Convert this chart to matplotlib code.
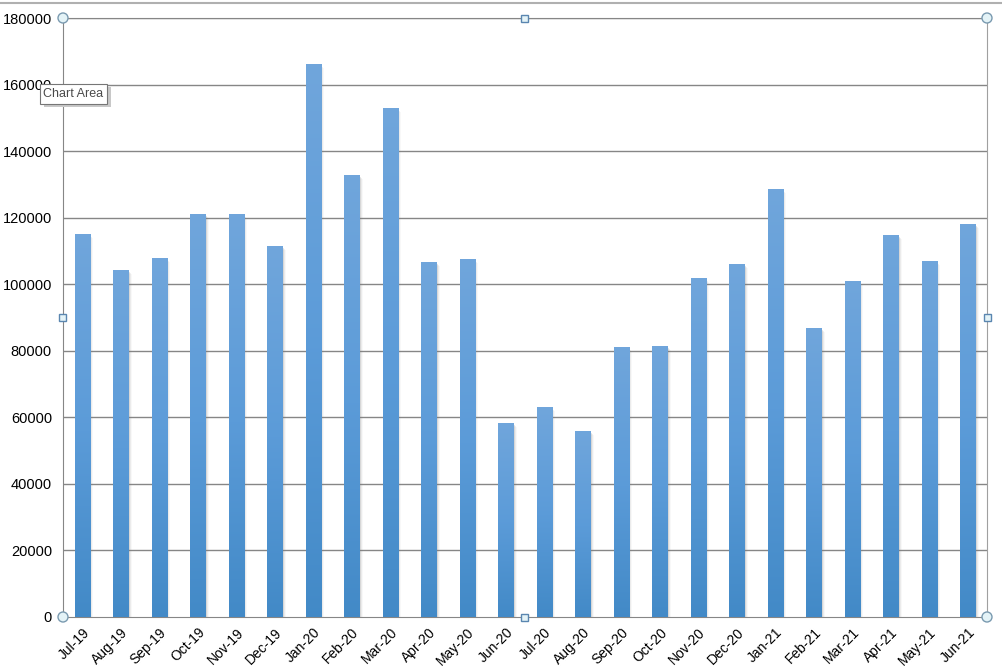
import numpy as np
import matplotlib.pyplot as plt
from matplotlib.patches import Rectangle, Circle
from matplotlib.lines import Line2D

months = ['Jul-19', 'Aug-19', 'Sep-19', 'Oct-19', 'Nov-19', 'Dec-19',
          'Jan-20', 'Feb-20', 'Mar-20', 'Apr-20', 'May-20', 'Jun-20',
          'Jul-20', 'Aug-20', 'Sep-20', 'Oct-20', 'Nov-20', 'Dec-20',
          'Jan-21', 'Feb-21', 'Mar-21', 'Apr-21', 'May-21', 'Jun-21']
values = [115100, 104300, 107900, 121100, 121100, 111400,
          166200, 132800, 153000, 106700, 107600, 58300,
          63100, 55900, 81100, 81400, 101900, 106100,
          128700, 86800, 101000, 114800, 107000, 118100]
yticks = np.arange(0, 180001, 20000)

plt.rcParams['font.family'] = ['Liberation Sans', 'DejaVu Sans']

fig = plt.figure(figsize=(10.02, 6.68), dpi=100)
ax = fig.add_axes([63/1002, 51/668, 924/1002, 599/668])

x = np.arange(len(months))
w = 0.4
ax.set_xlim(-0.5, len(months) - 0.5)
ax.set_ylim(0, 180000)

for yv in yticks[1:]:
    ax.axhline(yv, color='#868686', lw=1, zorder=1)

# gradient: light at top, darker at bottom
grad = np.linspace(0, 1, 256).reshape(-1, 1)
top = np.array([0.44, 0.65, 0.86])
mid = np.array([0.36, 0.61, 0.85])
bot = np.array([0.26, 0.54, 0.78])
cols = np.where(grad[..., None] < 0.5,
                top + (mid - top) * (grad[..., None] / 0.5),
                mid + (bot - mid) * ((grad[..., None] - 0.5) / 0.5))

for xi, v in zip(x, values):
    # soft shadow
    for k, a in enumerate([0.18, 0.10, 0.05]):
        sh = Rectangle((xi - w/2 + 0.03 + k*0.03, 0), w, v - 600 - k*300,
                       facecolor='#7f7f7f', edgecolor='none', alpha=a, zorder=2)
        ax.add_patch(sh)
    r = Rectangle((xi - w/2, 0), w, v, facecolor='none', edgecolor='none', zorder=3)
    ax.add_patch(r)
    im = ax.imshow(cols, extent=[xi - w/2, xi + w/2, 0, v], aspect='auto',
                   zorder=3, interpolation='bilinear')
    im.set_clip_path(r)

ax.set_xlim(-0.5, len(months) - 0.5)
ax.set_ylim(0, 180000)
ax.set_xticks(x)
ax.set_xticklabels(months, rotation=45, ha='right', rotation_mode='anchor', fontsize=10)
ax.set_yticks(yticks)
ax.set_yticklabels([str(t) for t in yticks], fontsize=10.5)
ax.tick_params(axis='both', length=0, pad=8)
ax.tick_params(axis='x', pad=6)

for s in ['left', 'bottom', 'right', 'top']:
    ax.spines[s].set_color('#868686')
ax.spines['right'].set_color('#a0a0a0')

# selection handles of the chart area
fx0, fx1 = 63/1002, 987/1002
fy0, fy1 = 51/668, 650/668
ratio = 1002/668
for (cx, cy) in [(fx0, fy0), (fx1, fy0), (fx0, fy1), (fx1, fy1)]:
    fig.patches.append(plt.matplotlib.patches.Ellipse((cx, cy), 10/1002, 10/668,
                       transform=fig.transFigure, facecolor='#e4f3f7',
                       edgecolor='#7a9ab0', lw=1, zorder=10))
for (cx, cy) in [((fx0+fx1)/2, fy0), ((fx0+fx1)/2, fy1), (fx0, (fy0+fy1)/2), (fx1, (fy0+fy1)/2)]:
    fig.patches.append(Rectangle((cx - 3.5/1002, cy - 3.5/668), 7/1002, 7/668,
                       transform=fig.transFigure, facecolor='#e4f3f7',
                       edgecolor='#5a86b0', lw=1, zorder=10))

# window top border
fig.lines.append(Line2D([0, 1], [1 - 3/668, 1 - 3/668], transform=fig.transFigure,
                        color='#b0b0b0', lw=1.5))

# "Chart Area" tooltip
fig.patches.append(Rectangle((44/1002, 1 - 107/668), 67/1002, 20/668,
                   transform=fig.transFigure, facecolor='#c8c8c8', edgecolor='none',
                   zorder=11))
fig.patches.append(Rectangle((40/1002, 1 - 104/668), 67/1002, 20/668,
                   transform=fig.transFigure, facecolor='white', edgecolor='#767676',
                   lw=0.8, zorder=12))
fig.text(73.5/1002, 1 - 94/668, 'Chart Area', ha='center', va='center',
         fontsize=9, color='#4a4a4a', zorder=13)

fig.savefig('out.png', dpi=100)
